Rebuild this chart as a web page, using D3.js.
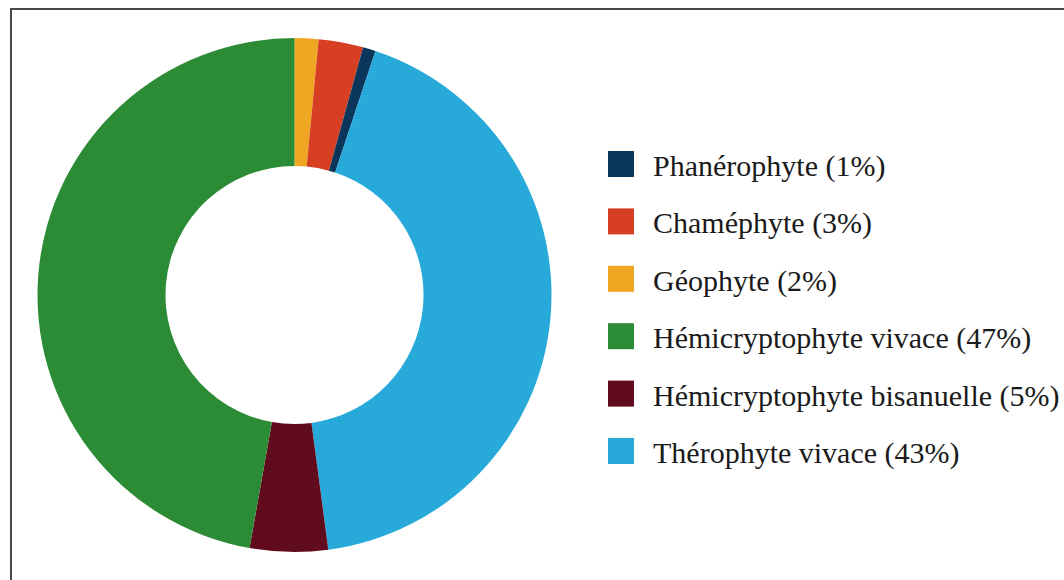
<!DOCTYPE html>
<html>
<head>
<meta charset="utf-8">
<script src="https://cdn.jsdelivr.net/npm/d3@7"></script>
<style>
  body { margin: 0; background: #fff; }
  svg { display: block; }
</style>
</head>
<body>
<svg id="chart" width="1064" height="580"></svg>
<script>
// slices in drawing order, clockwise from 12 o'clock
var slice_names = ["Géophyte", "Chaméphyte", "Phanérophyte", "Thérophyte vivace",
                   "Hémicryptophyte bisanuelle", "Hémicryptophyte vivace"];
var slice_values = [1.5, 2.8, 0.8, 42.8, 4.9, 47.2];
var slice_colors = ["#efa623", "#d63f22", "#0b365c", "#27aad9", "#610b1f", "#2b8c35"];

// legend order and labels as printed
var legend_names = ["Phanérophyte", "Chaméphyte", "Géophyte", "Hémicryptophyte vivace",
                    "Hémicryptophyte bisanuelle", "Thérophyte vivace"];
var legend_labels = ["Phanérophyte (1%)", "Chaméphyte (3%)", "Géophyte (2%)",
                     "Hémicryptophyte vivace (47%)", "Hémicryptophyte bisanuelle (5%)",
                     "Thérophyte vivace (43%)"];

var svg = d3.select("svg#chart");

// frame (right and bottom edges run off the picture)
svg.append("rect")
  .attr("x", 11).attr("y", 9)
  .attr("width", 1200).attr("height", 700)
  .attr("fill", "none")
  .attr("stroke", "#4a4a4a")
  .attr("stroke-width", 2);

var cx = 294.5, cy = 295, r_out = 257, r_in = 129;

var color = d3.scaleOrdinal().domain(slice_names).range(slice_colors);

var data = slice_names.map(function(d, i){ return {name: d, value: slice_values[i]}; });

var pie = d3.pie().sort(null).value(function(d){ return d.value; });
var arc = d3.arc().innerRadius(r_in).outerRadius(r_out);

var g = svg.append("g").attr("transform", "translate(" + cx + "," + cy + ")");
g.selectAll("path")
  .data(pie(data))
  .enter()
  .append("path")
  .attr("d", arc)
  .attr("fill", function(d){ return color(d.data.name); });

// legend
var y_leg = d3.scalePoint().domain(legend_names).range([151, 438]);
var leg = svg.append("g");
var rows = leg.selectAll("g")
  .data(legend_names)
  .enter()
  .append("g")
  .attr("transform", function(d){ return "translate(608," + y_leg(d) + ")"; });

rows.append("rect")
  .attr("width", 26).attr("height", 26)
  .attr("fill", function(d){ return color(d); });

rows.append("text")
  .attr("x", 45).attr("y", 25)
  .style("font-family", "'Liberation Serif', 'Times New Roman', serif")
  .style("font-size", "30px")
  .attr("fill", "#1a1a1a")
  .text(function(d, i){ return legend_labels[i]; });
</script>
</body>
</html>
